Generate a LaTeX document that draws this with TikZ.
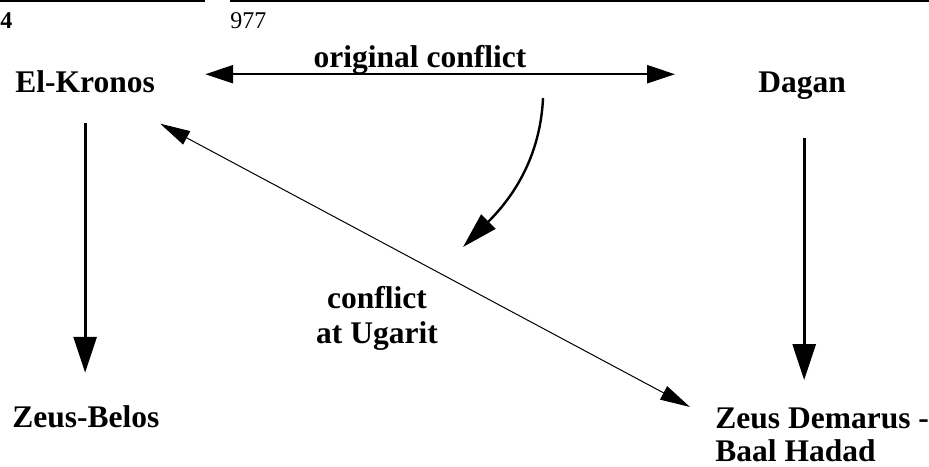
\documentclass[tikz,border=0pt]{standalone}
\usepackage{fontspec}
\setmainfont{Liberation Serif}
\usepackage{tikz}
\usetikzlibrary{arrows.meta, positioning, calc}

\begin{document}
\begin{tikzpicture}[x=0.5pt, y=-0.5pt,
    godname/.style={inner sep=0pt, font=\fontsize{15.75}{16.5}\selectfont\bfseries},
    pagenum/.style={inner sep=0pt, anchor=base west, font=\fontsize{12}{14}\selectfont},
    lineage/.style={line width=1.5pt, -{Triangle[length=18pt, width=11.5pt]}},
    rivalry/.style={line width=1.2pt, {Triangle[length=14pt, width=9pt]}-{Triangle[length=14pt, width=9pt]}},
    shiftarrow/.style={line width=1.2pt, -{Triangle[length=18pt, width=10pt]}},
    ugaritline/.style={line width=0.5pt, {Triangle[length=15pt, width=7.5pt]}-{Triangle[length=15pt, width=7.5pt]}}]
  \useasboundingbox (0,0) rectangle (929,466);

  % running head
  \draw[line width=0.8pt] (0,1) -- (205,1);
  \draw[line width=0.8pt] (230,1) -- (929,1);
  \node[pagenum] (pageleft) at (0,28) {\bfseries 4};
  \node[pagenum] (pageright) at (230,28) {977};

  % gods
  \node[godname, anchor=base west] (kronos) at (15,92) {El-Kronos};
  \node[godname, anchor=base west] (dagan) at (758,92) {Dagan};
  \node[godname, anchor=base west] (belos) at (12,427) {Zeus-Belos};
  \node[godname, anchor=north west, align=left] (demarus) at (715,407)
    {Zeus Demarus -\\Baal Hadad};

  % conflicts
  \node[godname, anchor=base] (original) at (420,67) {original conflict};
  \node[godname, anchor=north, align=center, font=\fontsize{15.75}{17.5}\selectfont\bfseries] (ugarit) at (377,286)
    {conflict\\at Ugarit};

  \draw[rivalry, shorten <=25pt, shorten >=41.5pt]
    ([yshift=3.5pt]kronos.east) -- ([yshift=3.5pt]kronos.east -| dagan.west);
  \draw[lineage, shorten <=15pt, shorten >=16pt]
    (kronos.south) -- (kronos.south |- belos.north);
  \draw[lineage, shorten <=19.5pt, shorten >=13.5pt]
    ([xshift=1pt]dagan.south) -- ([xshift=1pt]dagan.south |- demarus.north);
  \draw[ugaritline] ($(kronos.south east)+(5,31)$) -- ($(demarus.north west)+(-25,0)$);

  \coordinate (shiftstart) at (543,98);
  \coordinate (shiftend) at (463,247);
  \draw[shiftarrow] (shiftstart) .. controls (540,165) and (505,205) .. (shiftend);
\end{tikzpicture}
\end{document}
